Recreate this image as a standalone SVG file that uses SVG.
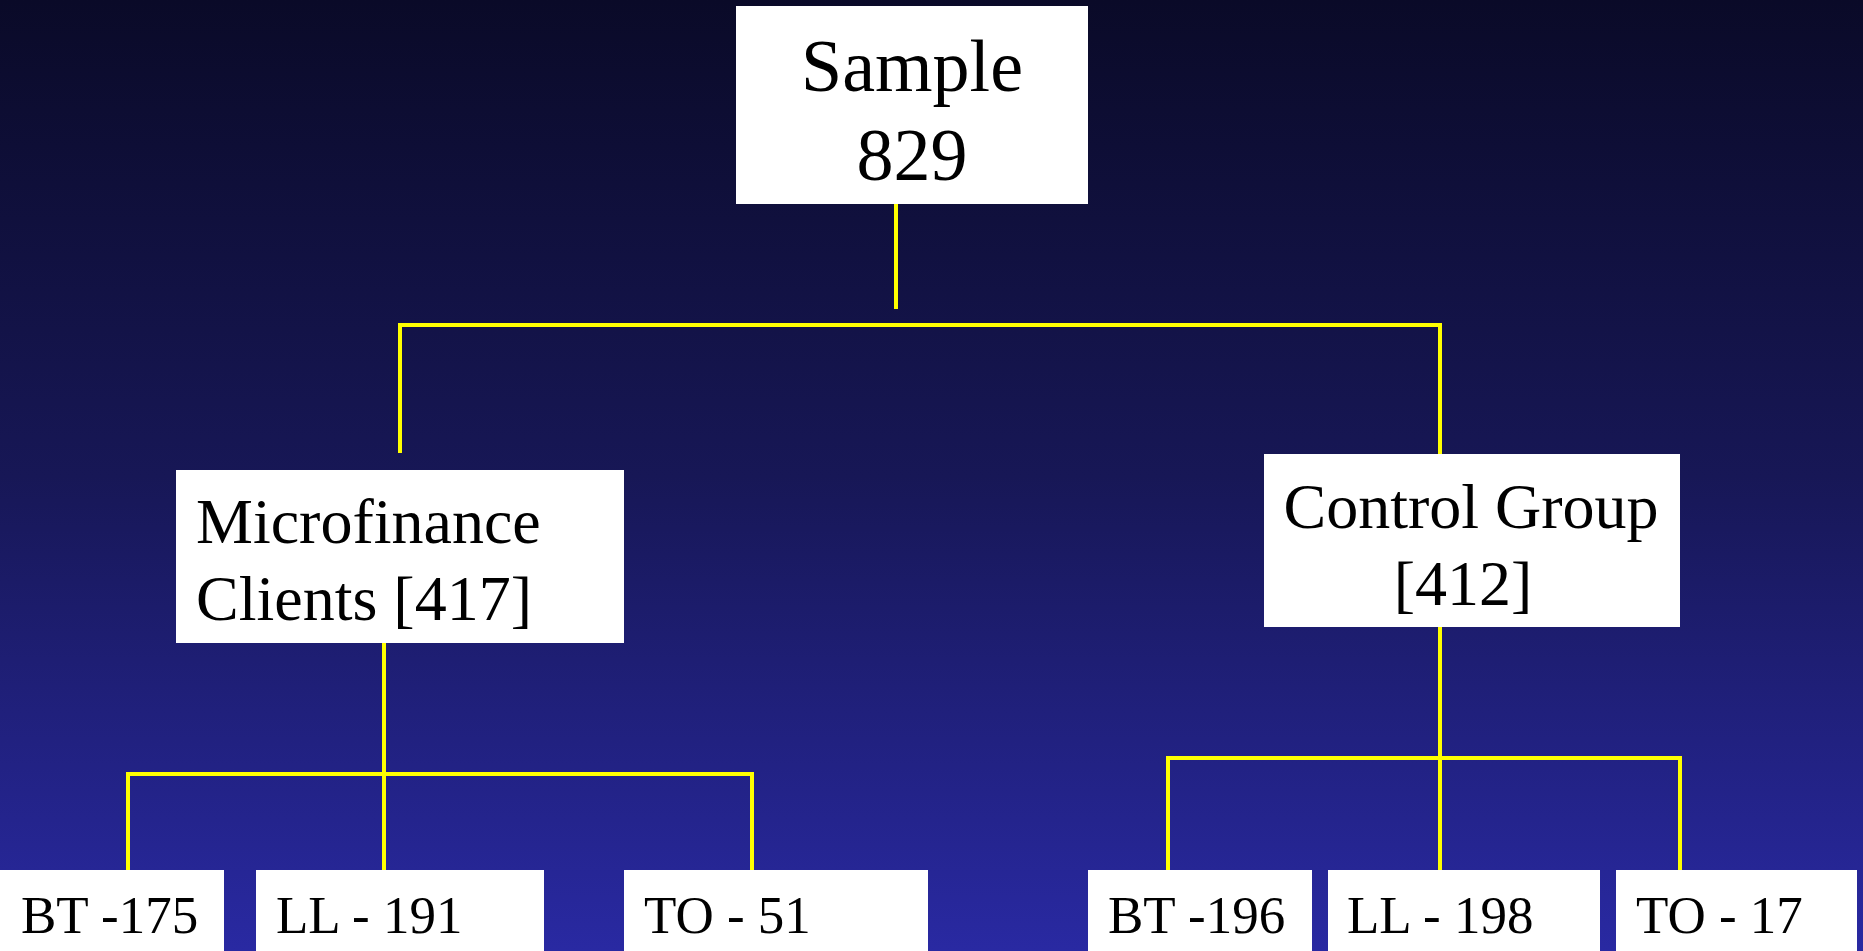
<svg xmlns="http://www.w3.org/2000/svg" width="1863" height="951" viewBox="0 0 1863 951">
<defs>
<linearGradient id="bg" x1="0" y1="0" x2="0" y2="1">
<stop offset="0" stop-color="#0a0a28"/>
<stop offset="0.5" stop-color="#171756"/>
<stop offset="1" stop-color="#2929a2"/>
</linearGradient>
</defs>
<style>
.box{fill:#ffffff;}
.t{font-family:"Liberation Serif","Times New Roman",serif;fill:#000000;}
.big{font-size:74px;}
.mid{font-size:64px;}
.small{font-size:53px;}
.c{fill:none;stroke:#ffff00;stroke-width:4;}
</style>
<rect x="0" y="0" width="1863" height="951" fill="url(#bg)"/>
<g id="connectors">
<line class="c" x1="896" y1="198" x2="896" y2="309"/>
<polyline class="c" points="400,453 400,325 1440,325 1440,454"/>
<line class="c" x1="384" y1="643" x2="384" y2="870"/>
<polyline class="c" points="128,870 128,774 752,774 752,870"/>
<line class="c" x1="1440" y1="627" x2="1440" y2="870"/>
<polyline class="c" points="1168,870 1168,758 1680,758 1680,870"/>
</g>
<g id="sample">
<rect class="box" x="736" y="6" width="352" height="198"/>
<text class="t big" x="912" y="91" text-anchor="middle">Sample</text>
<text class="t big" x="912" y="180" text-anchor="middle">829</text>
</g>
<g id="microfinance">
<rect class="box" x="176" y="470" width="448" height="173"/>
<text class="t mid" x="196" y="543">Microfinance</text>
<text class="t mid" x="196" y="620">Clients [417]</text>
</g>
<g id="control">
<rect class="box" x="1264" y="454" width="416" height="173"/>
<text class="t mid" x="1471" y="528" text-anchor="middle">Control Group</text>
<text class="t mid" x="1463" y="605" text-anchor="middle">[412]</text>
</g>
<g id="bt175">
<rect class="box" x="0" y="870" width="224" height="90"/>
<text class="t small" x="21" y="933">BT -175</text>
</g>
<g id="ll191">
<rect class="box" x="256" y="870" width="288" height="90"/>
<text class="t small" x="276" y="933">LL - 191</text>
</g>
<g id="to51">
<rect class="box" x="624" y="870" width="304" height="90"/>
<text class="t small" x="644" y="933">TO - 51</text>
</g>
<g id="bt196">
<rect class="box" x="1088" y="870" width="224" height="90"/>
<text class="t small" x="1108" y="933">BT -196</text>
</g>
<g id="ll198">
<rect class="box" x="1328" y="870" width="272" height="90"/>
<text class="t small" x="1347" y="933">LL - 198</text>
</g>
<g id="to17">
<rect class="box" x="1616" y="870" width="241" height="90"/>
<text class="t small" x="1636" y="933">TO - 17</text>
</g>
</svg>
